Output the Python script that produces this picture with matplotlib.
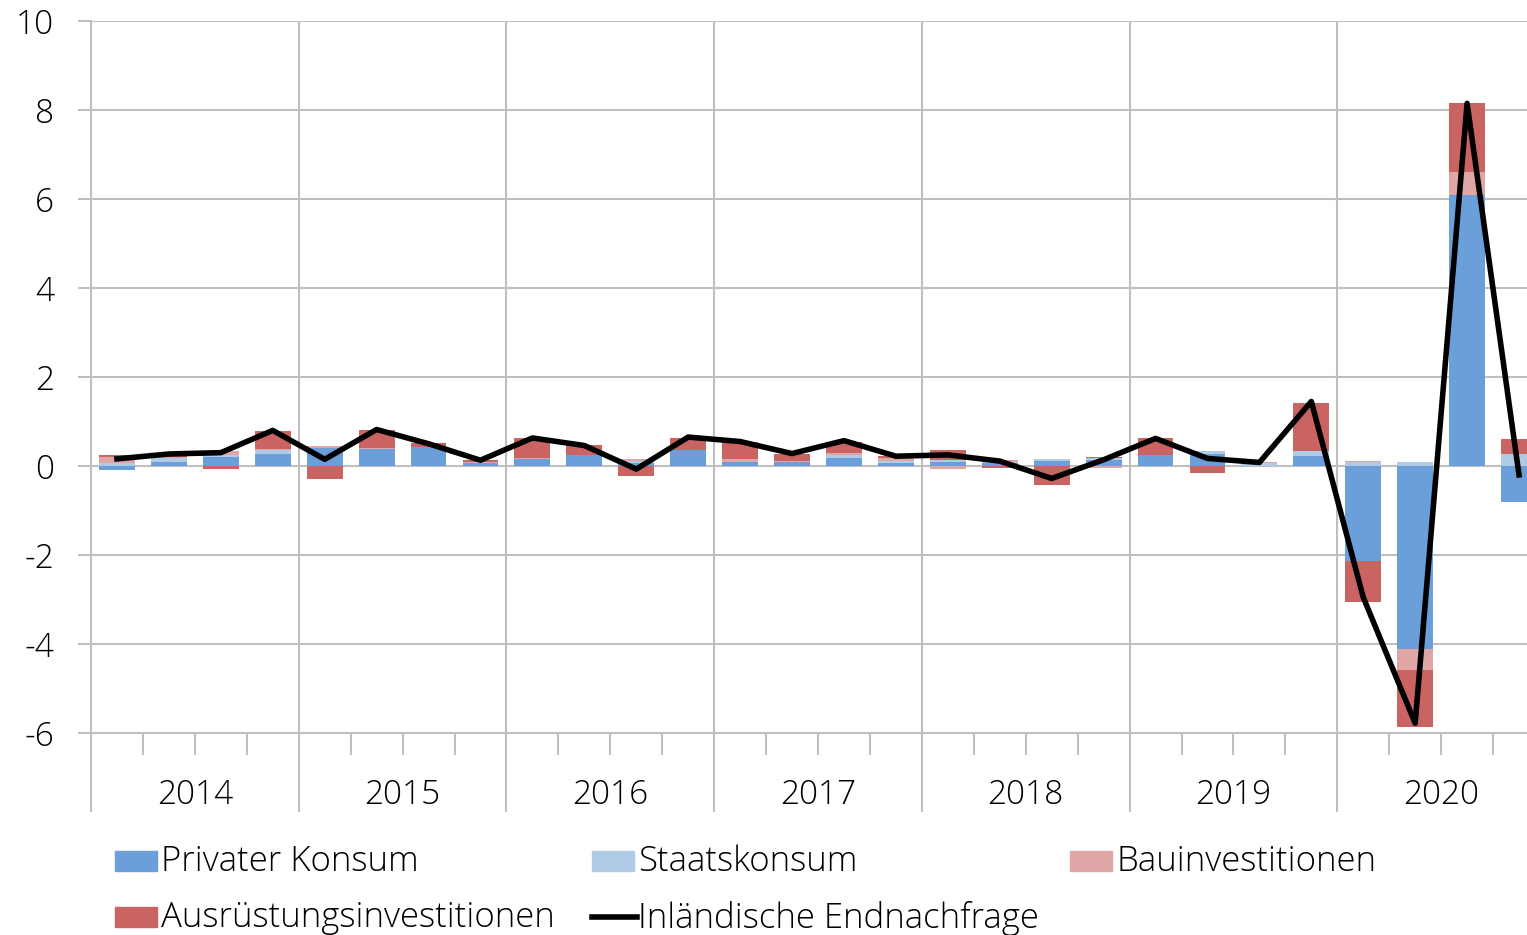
import numpy as np
import matplotlib
matplotlib.use("Agg")
import matplotlib.pyplot as plt
from matplotlib.patches import Rectangle
from matplotlib.lines import Line2D

plt.rcParams['font.family'] = ['Open Sans', 'DejaVu Sans']
plt.rcParams['font.weight'] = 'light'

# Quarterly contributions, 2014 Q1 .. 2020 Q4
years = ["2014", "2015", "2016", "2017", "2018", "2019", "2020"]
privat = [-0.10, 0.10, 0.21, 0.28, 0.40, 0.38, 0.43, 0.07,
          0.15, 0.25, 0.07, 0.37, 0.08, 0.09, 0.19, 0.06,
          0.10, 0.06, 0.11, 0.13, 0.25, 0.28, 0.00, 0.23,
          -2.13, -4.11, 6.09, -0.80]
staat = [0.06, 0.09, 0.04, 0.08, 0.00, 0.00, 0.00, 0.00,
         0.00, 0.00, 0.04, 0.00, 0.00, 0.00, 0.05, 0.06,
         0.04, 0.03, 0.04, 0.05, 0.00, 0.05, 0.06, 0.11,
         0.09, 0.10, 0.00, 0.27]
bau = [0.15, 0.02, 0.09, 0.02, 0.05, 0.03, 0.00, 0.03,
       0.04, 0.00, 0.04, 0.00, 0.07, 0.02, 0.06, 0.06,
       -0.07, 0.05, 0.00, -0.05, 0.00, 0.00, 0.03, 0.00,
       0.03, -0.47, 0.52, 0.00]
ausr = [0.03, 0.04, -0.06, 0.40, -0.30, 0.40, 0.09, 0.04,
        0.43, 0.22, -0.22, 0.27, 0.39, 0.16, 0.25, 0.04,
        0.21, -0.05, -0.43, 0.03, 0.37, -0.15, 0.00, 1.07,
        -0.93, -1.29, 1.54, 0.33]
inland = [0.16, 0.27, 0.30, 0.80, 0.15, 0.82, 0.50, 0.13,
          0.63, 0.46, -0.07, 0.65, 0.55, 0.28, 0.57, 0.22,
          0.25, 0.11, -0.28, 0.14, 0.62, 0.17, 0.08, 1.45,
          -2.95, -5.78, 8.15, -0.20]

series = [
    ("Privater Konsum", privat, "#6A9FDA"),
    ("Staatskonsum", staat, "#AFCBE6"),
    ("Bauinvestitionen", bau, "#E0A6A6"),
    ("Ausrüstungsinvestitionen", ausr, "#C96462"),
]
line_label = "Inländische Endnachfrage"

grid_col = "#BFBFBF"
fs = 24
W, H = 1527, 935
fig = plt.figure(figsize=(W / 100, H / 100), dpi=100)
ax = fig.add_axes([91 / W, 202 / H, 1454 / W, 712 / H])

n = len(inland)
x = np.arange(n)
pos_bottom = np.zeros(n)
neg_bottom = np.zeros(n)
for name, vals, col in series:
    v = np.array(vals)
    bottom = np.where(v >= 0, pos_bottom, neg_bottom)
    ax.bar(x, v, bottom=bottom, width=0.69, color=col, zorder=2)
    pos_bottom += np.where(v >= 0, v, 0)
    neg_bottom += np.where(v < 0, v, 0)

ax.plot(x, inland, color="black", lw=4, zorder=3)

ax.set_xlim(-0.5, n - 0.5)
ax.set_ylim(-6, 10)
ax.set_yticks(np.arange(-6, 11, 2))
ax.set_yticklabels([str(v) for v in range(-6, 11, 2)], fontsize=fs)
ax.grid(axis="y", color=grid_col, lw=1.5, zorder=0)

# year separators as major ticks, quarters as minor ticks
bounds = np.arange(-0.5, n, 4)
ax.set_xticks(bounds)
ax.set_xticklabels([])
ax.set_xticks([b for b in np.arange(-0.5, n, 1) if b not in bounds], minor=True)
ax.grid(axis="x", which="major", color=grid_col, lw=1.5, zorder=0)
ax.tick_params(axis="x", which="major", length=57, width=1.5, color=grid_col)
ax.tick_params(axis="x", which="minor", length=16, width=1.5, color=grid_col)
ax.tick_params(axis="y", length=9.5, width=1.5, color=grid_col, pad=17)

for i, yr in enumerate(years):
    ax.text(4 * i + 1.5, -0.087, yr, transform=ax.get_xaxis_transform(),
            ha="center", va="center", fontsize=fs)

for s in ["top", "right"]:
    ax.spines[s].set_visible(False)
for s in ["left", "bottom"]:
    ax.spines[s].set_color(grid_col)
    ax.spines[s].set_linewidth(1.5)

# legend, laid out in pixel positions like the original
entries = [
    (115, 861, "patch", series[0][2], series[0][0]),
    (592, 861, "patch", series[1][2], series[1][0]),
    (1070, 861, "patch", series[2][2], series[2][0]),
    (115, 917, "patch", series[3][2], series[3][0]),
    (592, 917, "line", "black", line_label),
]
for px, py, kind, col, lab in entries:
    if kind == "patch":
        fig.add_artist(Rectangle((px / W, 1 - (py + 10) / H), 42 / W, 20 / H,
                                 transform=fig.transFigure, color=col))
    else:
        fig.add_artist(Line2D([px / W, (px + 45) / W], [1 - py / H] * 2,
                              transform=fig.transFigure, color=col, lw=4))
    fig.text((px + 46) / W, 1 - (py - 3) / H, lab, fontsize=25,
             va="center_baseline", ha="left")

fig.savefig("out.png", dpi=100)
